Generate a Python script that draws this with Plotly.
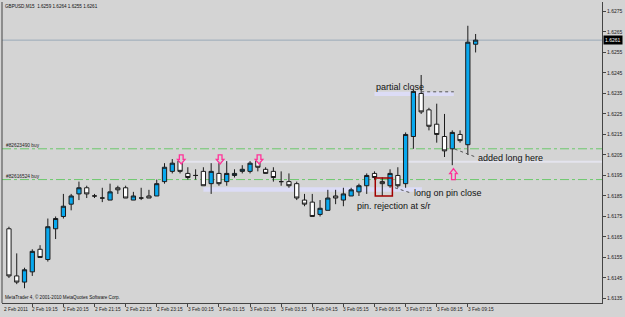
import plotly.graph_objects as go

# ---------------- data (GBPUSD M15) ----------------
opens = [1.6169, 1.6146, 1.6143, 1.6148, 1.6159, 1.6154, 1.6169, 1.6175, 1.6181, 1.6186,
         1.6189, 1.6185, 1.6184, 1.6183, 1.6189, 1.6189, 1.6183, 1.6184, 1.6185, 1.6185,
         1.6192, 1.6197, 1.6202, 1.6196, 1.6195, 1.6197, 1.6191, 1.6196, 1.6192, 1.6195,
         1.6197, 1.6197, 1.6202, 1.6198, 1.6197, 1.6192, 1.6192, 1.6191, 1.6183, 1.6182,
         1.6176, 1.6178, 1.6185, 1.6183, 1.6185, 1.6187, 1.6190, 1.6196, 1.6192, 1.6190,
         1.6195, 1.6191, 1.6214, 1.6235, 1.6227, 1.6220, 1.6214, 1.6208, 1.6215, 1.6210,
         1.6259]
highs = [1.6170, 1.6157, 1.6150, 1.6159, 1.6161, 1.6174, 1.6175, 1.6186, 1.6186, 1.6192,
         1.6190, 1.6186, 1.6189, 1.6191, 1.6190, 1.6190, 1.6187, 1.6189, 1.6188, 1.6193,
         1.6201, 1.6203, 1.6203, 1.6199, 1.6198, 1.6199, 1.6201, 1.6201, 1.6202, 1.6198,
         1.6200, 1.6202, 1.6204, 1.6199, 1.6199, 1.6197, 1.6196, 1.6192, 1.6186, 1.6186,
         1.6183, 1.6188, 1.6188, 1.6189, 1.6189, 1.6191, 1.6196, 1.6197, 1.6194, 1.6198,
         1.6199, 1.6216, 1.6237, 1.6244, 1.6228, 1.6230, 1.6225, 1.6217, 1.6217, 1.6268,
         1.6264]
lows = [1.6145, 1.6142, 1.6140, 1.6146, 1.6155, 1.6153, 1.6164, 1.6174, 1.6178, 1.6183,
        1.6184, 1.6184, 1.6182, 1.6183, 1.6186, 1.6184, 1.6183, 1.6183, 1.6184, 1.6185,
        1.6191, 1.6196, 1.6196, 1.6193, 1.6193, 1.6190, 1.6186, 1.6190, 1.6190, 1.6194,
        1.6196, 1.6196, 1.6197, 1.6196, 1.6192, 1.6190, 1.6189, 1.6183, 1.6180, 1.6175,
        1.6175, 1.6178, 1.6181, 1.6180, 1.6185, 1.6185, 1.6186, 1.6193, 1.6185, 1.6189,
        1.6189, 1.6189, 1.6208, 1.6225, 1.6217, 1.6211, 1.6204, 1.6200, 1.6211, 1.6205,
        1.6255]
closes = [1.6146, 1.6143, 1.6149, 1.6158, 1.6155, 1.6170, 1.6174, 1.6180, 1.6185, 1.6189,
          1.6186, 1.6185, 1.6184, 1.6187, 1.6188, 1.6184, 1.6185, 1.6184, 1.6184, 1.6191,
          1.6199, 1.6201, 1.6197, 1.6194, 1.6195, 1.6190, 1.6197, 1.6191, 1.6196, 1.6196,
          1.6198, 1.6201, 1.6199, 1.6196, 1.6194, 1.6192, 1.6190, 1.6184, 1.6181, 1.6175,
          1.6179, 1.6184, 1.6184, 1.6186, 1.6188, 1.6190, 1.6195, 1.6194, 1.6191, 1.6196,
          1.6190, 1.6215, 1.6236, 1.6226, 1.6219, 1.6215, 1.6207, 1.6216, 1.6212, 1.6260,
          1.6261]
bar_idx = list(range(len(opens)))

x_tick_idx = [3, 7, 11, 15, 19, 23, 27, 31, 35, 39, 43, 47, 51, 55, 59]
x_tick_text = ["2 Feb 19:15", "2 Feb 20:15", "2 Feb 21:15", "2 Feb 22:15", "2 Feb 23:15",
               "3 Feb 00:15", "3 Feb 01:15", "3 Feb 02:15", "3 Feb 03:15", "3 Feb 04:15",
               "3 Feb 05:15", "3 Feb 06:15", "3 Feb 07:15", "3 Feb 08:15", "3 Feb 09:15"]
first_label = "2 Feb 2011"
y_ticks = [1.6135, 1.6145, 1.6155, 1.6165, 1.6175, 1.6185, 1.6195, 1.6205,
           1.6215, 1.6225, 1.6235, 1.6245, 1.6255, 1.6265, 1.6275]

order_prices = [1.6208, 1.6193]
order_labels = ["#82623490 buy", "#82616524 buy"]

down_arrow_idx = [22, 27, 32]
down_arrow_top = [1.6205, 1.6205, 1.6205]
up_arrow_idx = [57]
up_arrow_bottom = [1.6193]

header_text = "GBPUSD,M15  1.6259 1.6264 1.6255 1.6261"
footer_text = "MetaTrader 4, \u00a9 2001-2010 MetaQuotes Software Corp."

# ---------------- geometry helpers ----------------
X_RANGE = [-0.894, 76.25]
Y_RANGE = [1.61328, 1.62796]
PX_X = 604 / (X_RANGE[1] - X_RANGE[0])   # pixels per bar
PX_Y = 301 / (Y_RANGE[1] - Y_RANGE[0])   # pixels per price unit
dx = lambda p: p / PX_X
dy = lambda p: p / PX_Y

BG = "#D4D4D4"
AX = "#444444"
FONT = "Liberation Sans"

fig = go.Figure()
fig.add_trace(go.Candlestick(
    x=bar_idx, open=opens, high=highs, low=lows, close=closes,
    increasing=dict(fillcolor="#08A8EE", line=dict(color="#1b1b1b", width=1)),
    decreasing=dict(fillcolor="#FFFFFF", line=dict(color="#1b1b1b", width=1)),
    whiskerwidth=0, hoverinfo="skip", showlegend=False,
))

shapes = []
annotations = []

# left border
shapes.append(dict(type="line", xref="paper", yref="paper", x0=0, x1=0, y0=0, y1=1,
                   line=dict(color=AX, width=1)))
# current price line
shapes.append(dict(type="line", xref="paper", yref="y", x0=0, x1=1, y0=closes[-1], y1=closes[-1],
                   line=dict(color="#9AAAB8", width=1), layer="below"))
# order lines
for p, lab in zip(order_prices, order_labels):
    shapes.append(dict(type="line", xref="paper", yref="y", x0=0, x1=1, y0=p, y1=p,
                       line=dict(color="#6CC86C", width=1, dash="dashdot"), layer="below"))
    annotations.append(dict(xref="paper", yref="y", x=0, y=p, xanchor="left", yanchor="bottom",
                            xshift=2, yshift=-1, text=lab, showarrow=False,
                            font=dict(family=FONT, size=4.8, color="#222")))

# lavender support/resistance bands
shapes.append(dict(type="rect", xref="x", yref="y", x0=22.0, x1=X_RANGE[1], y0=1.62012, y1=1.62022,
                   fillcolor="#E4E4EE", line=dict(width=0), layer="below"))
shapes.append(dict(type="rect", xref="x", yref="y", x0=25.0, x1=53.1, y0=1.6187, y1=1.61893,
                   fillcolor="#DCDCF6", line=dict(width=0), layer="below"))
shapes.append(dict(type="rect", xref="x", yref="y", x0=47.0, x1=57.2, y0=1.62338, y1=1.62358,
                   fillcolor="#DCDCF6", line=dict(width=0), layer="below"))
shapes.append(dict(type="line", xref="x", yref="y", x0=53.0, x1=57.2, y0=1.62358, y1=1.62358,
                   line=dict(color="#555", width=1, dash="dot")))

# red box around the pin bar
shapes.append(dict(type="rect", xref="x", yref="y", x0=47.1, x1=49.3, y0=1.6185, y1=1.61938,
                   line=dict(color="#A00000", width=1.5), fillcolor="rgba(0,0,0,0)"))
# dotted leader lines
shapes.append(dict(type="line", xref="x", yref="y", x0=48.9, y0=1.61899, x1=51.8, y1=1.61863,
                   line=dict(color="#555", width=1, dash="dot")))
shapes.append(dict(type="line", xref="x", yref="y", x0=57.3, y0=1.62079, x1=60.0, y1=1.6204,
                   line=dict(color="#555", width=1, dash="dot")))

# hollow pink arrows
def down_arrow(cx, top):
    sw, hw, sh, hh = 1.9, 3.8, 4.5, 4.5
    pts = [(cx - dx(sw), top), (cx + dx(sw), top), (cx + dx(sw), top - dy(sh)),
           (cx + dx(hw), top - dy(sh)), (cx, top - dy(sh + hh)), (cx - dx(hw), top - dy(sh)),
           (cx - dx(sw), top - dy(sh))]
    return "M" + " L".join(f"{x:.4f},{y:.6f}" for x, y in pts) + " Z"

def up_arrow(cx, bottom):
    sw, hw, sh, hh = 1.9, 3.8, 6.0, 5.0
    pts = [(cx - dx(sw), bottom), (cx + dx(sw), bottom), (cx + dx(sw), bottom + dy(sh)),
           (cx + dx(hw), bottom + dy(sh)), (cx, bottom + dy(sh + hh)), (cx - dx(hw), bottom + dy(sh)),
           (cx - dx(sw), bottom + dy(sh))]
    return "M" + " L".join(f"{x:.4f},{y:.6f}" for x, y in pts) + " Z"

for i, t in zip(down_arrow_idx, down_arrow_top):
    shapes.append(dict(type="path", xref="x", yref="y", path=down_arrow(i + 0.15, t),
                       line=dict(color="#FF3399", width=1.3), fillcolor=BG))
for i, b in zip(up_arrow_idx, up_arrow_bottom):
    shapes.append(dict(type="path", xref="x", yref="y", path=up_arrow(i + 0.15, b),
                       line=dict(color="#FF3399", width=1.3), fillcolor=BG))

# chart notes
note_text = ["partial close", "pin. rejection at s/r", "long on pin close", "added long here"]
note_x = [47.1, 44.6, 52.0, 60.2]
note_y = [1.62382, 1.61801, 1.61865, 1.62035]
for t, x, y in zip(note_text, note_x, note_y):
    annotations.append(dict(xref="x", yref="y", x=x, y=y, xanchor="left", yanchor="middle",
                            text=t, showarrow=False, borderpad=0,
                            font=dict(family=FONT, size=9, color="#111")))

# x-axis labels (MetaTrader style: left-aligned at tick)
annotations.append(dict(xref="paper", yref="paper", x=0, y=0, xanchor="left", yanchor="top",
                        xshift=1, yshift=-3, text=first_label, showarrow=False, borderpad=0,
                        font=dict(family=FONT, size=4.8, color="#222")))
for i, t in zip(x_tick_idx, x_tick_text):
    annotations.append(dict(xref="x", yref="paper", x=i, y=0, xanchor="left", yanchor="top",
                            xshift=-1, yshift=-3, text=t, showarrow=False, borderpad=0,
                            font=dict(family=FONT, size=4.8, color="#222")))

# current price tag
annotations.append(dict(xref="paper", yref="y", x=1, y=closes[-1], xanchor="left", yanchor="middle",
                        xshift=1, text=f"{closes[-1]:.4f}", showarrow=False, bgcolor="#000000",
                        borderpad=1, font=dict(family=FONT, size=5, color="#FFFFFF")))
# header / footer
annotations.append(dict(xref="paper", yref="paper", x=0, y=1, xanchor="left", yanchor="top",
                        xshift=2, yshift=-1, text=header_text, showarrow=False, borderpad=0,
                        font=dict(family=FONT, size=4.6, color="#111")))
annotations.append(dict(xref="paper", yref="paper", x=0, y=0, xanchor="left", yanchor="bottom",
                        xshift=2, yshift=2, text=footer_text, showarrow=False, borderpad=0,
                        font=dict(family=FONT, size=4.6, color="#111")))

fig.update_layout(
    width=625, height=317,
    margin=dict(l=2, r=19, t=2, b=14),
    paper_bgcolor=BG, plot_bgcolor=BG,
    boxgap=0.22,
    shapes=shapes, annotations=annotations,
    showlegend=False,
    xaxis=dict(range=X_RANGE, showgrid=False, zeroline=False, showline=True, linecolor=AX,
               ticks="outside", ticklen=3, tickcolor=AX, tickvals=x_tick_idx,
               showticklabels=False, rangeslider=dict(visible=False), fixedrange=True),
    yaxis=dict(range=Y_RANGE, side="right", showgrid=False, zeroline=False, showline=True,
               linecolor=AX, ticks="outside", ticklen=3, tickcolor=AX, tickvals=y_ticks,
               tickformat=".4f", tickfont=dict(family=FONT, size=5, color="#222"), fixedrange=True),
)

fig.write_html("out.html")
